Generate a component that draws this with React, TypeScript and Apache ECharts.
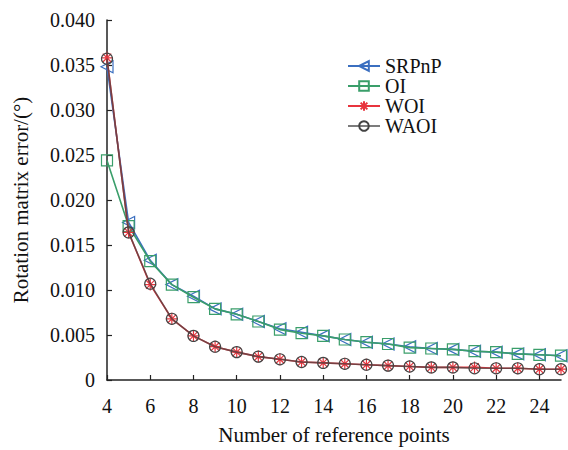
import React, { useEffect, useRef } from "react";
import * as echarts from "echarts";

const xValues = [4, 5, 6, 7, 8, 9, 10, 11, 12, 13, 14, 15, 16, 17, 18, 19, 20, 21, 22, 23, 24, 25];
const srpnp = [0.0348, 0.0175, 0.0133, 0.0106, 0.0093, 0.0079, 0.0073, 0.0065, 0.0057, 0.0053, 0.0049, 0.0045, 0.0042, 0.0040, 0.0037, 0.0035, 0.0034, 0.0032, 0.0031, 0.0029, 0.0028, 0.0027];
const oi = [0.0244, 0.0171, 0.0132, 0.0106, 0.0092, 0.0079, 0.0073, 0.0065, 0.0056, 0.0052, 0.0049, 0.0045, 0.0042, 0.0040, 0.0036, 0.0035, 0.0034, 0.0032, 0.0031, 0.0029, 0.0028, 0.0027];
const woi = [0.0358, 0.0164, 0.0106, 0.0068, 0.0049, 0.0037, 0.0031, 0.0026, 0.0023, 0.0020, 0.0019, 0.0018, 0.0017, 0.0016, 0.0015, 0.0014, 0.0014, 0.0014, 0.0013, 0.0013, 0.0012, 0.0012];
const waoi = [0.0357, 0.0164, 0.0107, 0.0068, 0.0049, 0.0037, 0.0031, 0.0026, 0.0023, 0.0020, 0.0019, 0.0018, 0.0017, 0.0016, 0.0015, 0.0014, 0.0014, 0.0013, 0.0013, 0.0013, 0.0012, 0.0012];
const xTickLabels = [4, 6, 8, 10, 12, 14, 16, 18, 20, 22, 24];
const seriesNames = ["SRPnP", "OI", "WOI", "WAOI"];

const FONT = "Liberation Serif";
const toPairs = (arr: number[]) => xValues.map((x, i) => [x, arr[i]]);

const TRI_LEFT = "path://M0 5 L10 0 L10 10 Z";
const ASTERISK = "path://M5 0 L5 10 M0 5 L10 5 M1.5 1.5 L8.5 8.5 M1.5 8.5 L8.5 1.5";

export default function App() {
  const ref = useRef<HTMLDivElement>(null);
  useEffect(() => {
    if (!ref.current) return;
    const chart = echarts.init(ref.current, undefined, { renderer: "svg" });
    const mk = (name: string, data: number[], color: string, symbol: string, size: number, z: number, lineOpacity = 1) => ({
      name,
      type: "line",
      data: toPairs(data),
      symbol,
      symbolSize: size,
      z,
      lineStyle: { color, width: 1.6, opacity: lineOpacity },
      itemStyle: { color: "rgba(0,0,0,0)", borderColor: color, borderWidth: 1.2 },
      emphasis: { disabled: true },
    });
    chart.setOption({
      animation: false,
      backgroundColor: "#ffffff",
      textStyle: { fontFamily: FONT },
      grid: { left: 107, right: 7, top: 20, bottom: 65, containLabel: false },
      legend: {
        orient: "vertical",
        left: 342,
        top: 51,
        itemWidth: 32,
        itemHeight: 12,
        itemGap: 0,
        data: seriesNames,
        textStyle: { fontFamily: FONT, fontSize: 20, color: "#111" },
      },
      xAxis: {
        type: "value",
        min: 4,
        max: 25,
        interval: 2,
        name: "Number of reference points",
        nameLocation: "middle",
        nameGap: 44,
        nameTextStyle: { fontFamily: FONT, fontSize: 21, color: "#111" },
        axisLine: { lineStyle: { color: "#222", width: 1.5 } },
        axisTick: { inside: true, length: 5, lineStyle: { color: "#222", width: 1.2 }, customValues: xTickLabels },
        axisLabel: { fontFamily: FONT, fontSize: 20, color: "#111", margin: 16, customValues: xTickLabels },
        splitLine: { show: false },
      },
      yAxis: {
        type: "value",
        min: 0,
        max: 0.04,
        interval: 0.005,
        name: "Rotation matrix error/(°)",
        nameLocation: "middle",
        nameGap: 76,
        nameTextStyle: { fontFamily: FONT, fontSize: 21, color: "#111" },
        axisLine: { show: true, lineStyle: { color: "#222", width: 1.5 } },
        axisTick: { show: true, inside: true, length: 5, lineStyle: { color: "#222", width: 1.2 } },
        axisLabel: {
          fontFamily: FONT,
          fontSize: 20,
          color: "#111",
          margin: 12,
          formatter: (v: number) => (v === 0 ? "0" : v.toFixed(3)),
        },
        splitLine: { show: false },
      },
      series: [
        mk("SRPnP", srpnp, "#3b6fc0", TRI_LEFT, 12, 2),
        mk("OI", oi, "#3a9e6a", "rect", 11, 3),
        mk("WOI", woi, "#e8343d", ASTERISK, 12, 4),
        mk("WAOI", waoi, "#444444", "circle", 11, 5, 0.7),
      ],
    });
    return () => chart.dispose();
  }, []);
  return <div ref={ref} style={{ position: "absolute", left: 0, top: 0, width: 568, height: 450 }} />;
}
